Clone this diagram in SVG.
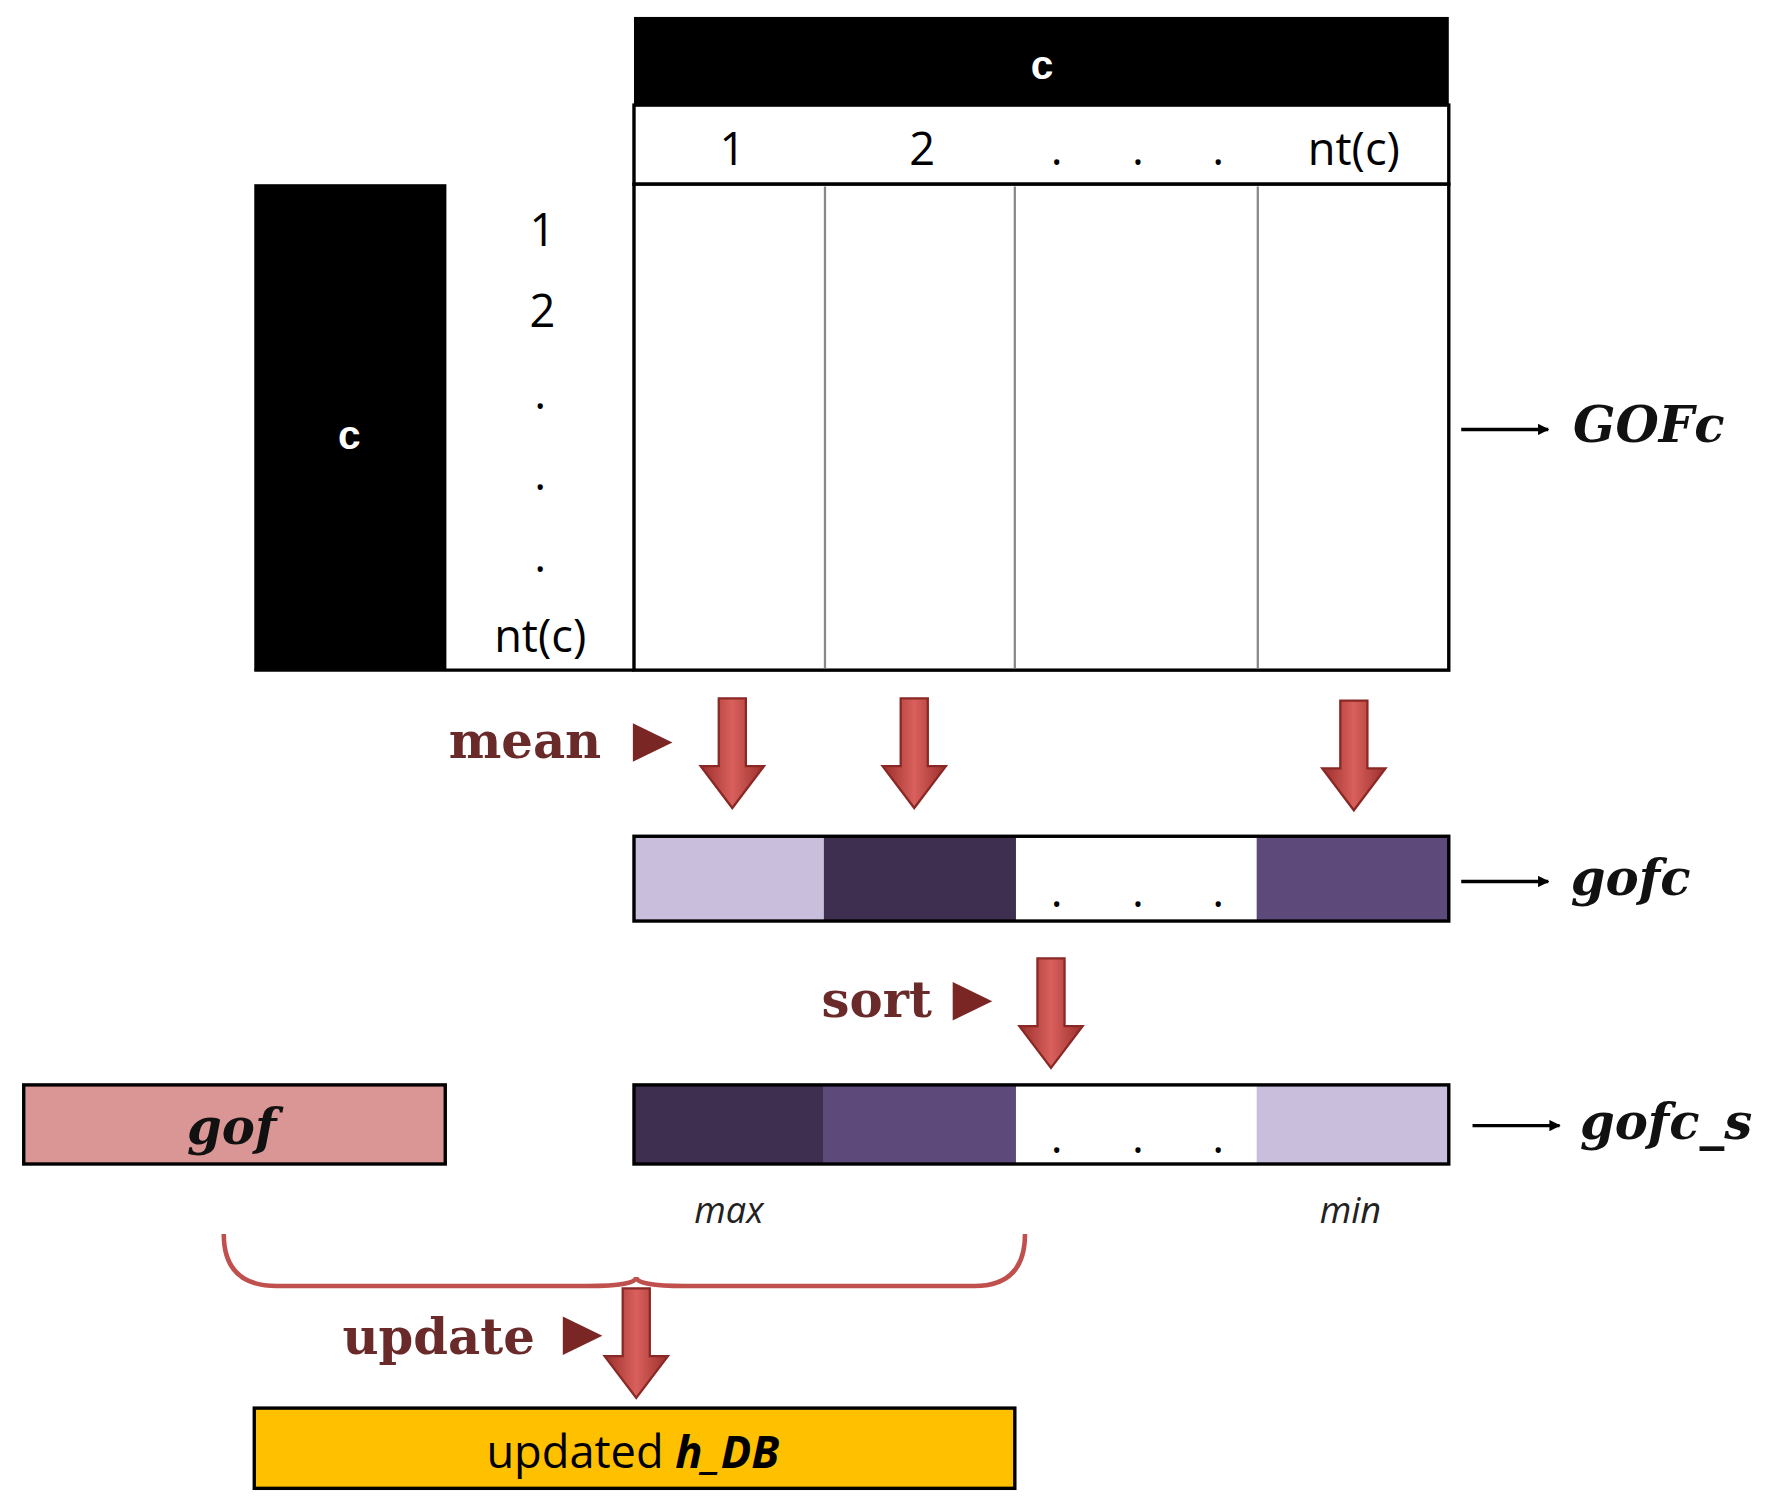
<svg xmlns="http://www.w3.org/2000/svg" width="1772" height="1508" viewBox="0 0 1772 1508">
<defs>
<style>
.num{font-family:"Open Sans","DejaVu Sans",sans-serif;font-size:40px;fill:#000;text-anchor:middle}
.hdr{font-family:"Liberation Sans",Arial,sans-serif;font-weight:bold;font-size:36px;fill:#fff;text-anchor:middle}
.lbl{font-family:"DejaVu Serif","Liberation Serif",serif;font-weight:bold;font-style:italic;font-size:44px;fill:#111}
.op{font-family:"DejaVu Serif","Liberation Serif",serif;font-weight:bold;font-size:44px;fill:#6b2a2a}
.mm{font-family:"Open Sans","DejaVu Sans",sans-serif;font-style:italic;font-size:32px;fill:#222;text-anchor:middle}
.grid{stroke:#888;stroke-width:2}
.bar{stroke:#000;stroke-width:3;fill:none}
</style>
<linearGradient id="rg" x1="0" x2="1" y1="0" y2="0">
<stop offset="0" stop-color="#9b2f2c"/><stop offset="0.5" stop-color="#d9605c"/><stop offset="1" stop-color="#9b2f2c"/>
</linearGradient>
<marker id="ah" markerWidth="10" markerHeight="10" refX="9" refY="5" orient="auto" markerUnits="userSpaceOnUse"><path d="M0,0 L10,5 L0,10 z" fill="#000"/></marker>
<path id="fat" d="M-12,0 L12,0 L12,60 L28,60 L0,97 L-28,60 L-12,60 z" fill="url(#rg)" stroke="#8a2826" stroke-width="2"/>
</defs>
<g transform="scale(1.1301)">
<g id="matrix">
<rect x="561" y="15" width="721" height="78" fill="#000"/>
<text class="hdr" x="922" y="70">c</text>
<rect x="561" y="93" width="721" height="70" fill="#fff" stroke="#000" stroke-width="3"/>
<text class="num" x="648" y="146">1</text>
<text class="num" x="816" y="146">2</text>
<text class="num" x="935" y="146">.</text>
<text class="num" x="1007" y="146">.</text>
<text class="num" x="1078" y="146">.</text>
<text class="num" x="1198" y="146">nt(c)</text>
<rect x="225" y="163" width="170" height="430" fill="#000"/>
<text class="hdr" x="309" y="397">c</text>
<text class="num" x="480" y="218">1</text>
<text class="num" x="480" y="289">2</text>
<text class="num" x="478" y="362">.</text>
<text class="num" x="478" y="434">.</text>
<text class="num" x="478" y="506">.</text>
<text class="num" x="478" y="577">nt(c)</text>
<rect x="561" y="163" width="721" height="430" fill="#fff" stroke="#000" stroke-width="3"/>
<line class="grid" x1="730" y1="165" x2="730" y2="591"/>
<line class="grid" x1="898" y1="165" x2="898" y2="591"/>
<line class="grid" x1="1113" y1="165" x2="1113" y2="591"/>
<line x1="225" y1="593" x2="561" y2="593" stroke="#000" stroke-width="3"/>
</g>
<g id="gofc">
<rect x="561" y="740" width="168" height="75" fill="#c9bedb"/>
<rect x="729" y="740" width="170" height="75" fill="#3e2f50"/>
<rect x="1112" y="740" width="170" height="75" fill="#5e4a7a"/>
<text class="num" x="935" y="803">.</text><text class="num" x="1007" y="803">.</text><text class="num" x="1078" y="803">.</text>
<rect class="bar" x="561" y="740" width="721" height="75"/>
</g>
<g id="gofc_s">
<rect x="561" y="960" width="168" height="70" fill="#3e2f50"/>
<rect x="729" y="960" width="170" height="70" fill="#5e4a7a"/>
<rect x="1112" y="960" width="170" height="70" fill="#c9bedb"/>
<text class="num" x="935" y="1020">.</text><text class="num" x="1007" y="1020">.</text><text class="num" x="1078" y="1020">.</text>
<rect class="bar" x="561" y="960" width="721" height="70"/>
<text class="mm" x="645" y="1082">max</text>
<text class="mm" x="1195" y="1082">min</text>
</g>
<g id="gof">
<rect x="21" y="960" width="373" height="70" fill="#d99694" stroke="#000" stroke-width="3"/>
<text class="lbl" x="205" y="1012" text-anchor="middle">gof</text>
</g>
<g id="hdb">
<rect x="225" y="1246" width="673" height="71" fill="#ffc000" stroke="#000" stroke-width="3"/>
<text class="num" x="560" y="1299"><tspan>updated </tspan><tspan font-weight="bold" font-style="italic">h_DB</tspan></text>
</g>
<g id="labels">
<text class="lbl" x="1392" y="391">GOFc</text>
<text class="lbl" x="1390" y="792">gofc</text>
<text class="lbl" x="1398" y="1008">gofc_s</text>
<text class="op" x="397" y="671">mean</text>
<text class="op" x="727" y="900">sort</text>
<text class="op" x="303" y="1198">update</text>
</g>
<g id="connectors">
<line x1="1293" y1="380" x2="1370" y2="380" stroke="#000" stroke-width="3" marker-end="url(#ah)"/>
<line x1="1293" y1="780" x2="1370" y2="780" stroke="#000" stroke-width="3" marker-end="url(#ah)"/>
<line x1="1303" y1="996" x2="1380" y2="996" stroke="#000" stroke-width="3" marker-end="url(#ah)"/>
<path d="M560,640 L595,657 L560,674 z" fill="#7a2624"/>
<path d="M843,869 L878,886 L843,903 z" fill="#7a2624"/>
<path d="M498,1165 L533,1182 L498,1199 z" fill="#7a2624"/>
<use href="#fat" x="648" y="618"/>
<use href="#fat" x="809" y="618"/>
<use href="#fat" x="1198" y="620"/>
<use href="#fat" x="930" y="848"/>
<use href="#fat" x="563" y="1140"/>
<path d="M198,1092 Q198,1138 245,1138 L520,1138 Q563,1138 563,1130 Q563,1138 606,1138 L862,1138 Q907,1138 907,1092" fill="none" stroke="#c0504d" stroke-width="4"/>
</g>
</g>
</svg>
